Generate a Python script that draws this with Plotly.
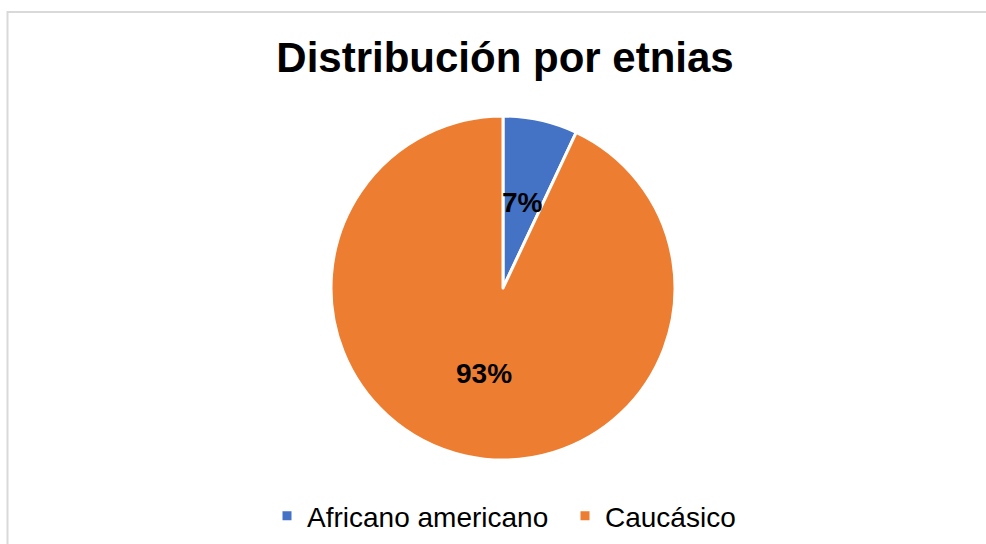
import math
import plotly.graph_objects as go

# ---- data ----
categories = ["Africano americano", "Caucásico"]
values = [7, 93]
colors = ["#4472C4", "#ED7D31"]
title_text = "Distribución por etnias"

W, H = 986, 544
# pie geometry (pixels)
cx_px, cy_px, r_px = 503, 288, 172

dom_x = [(cx_px - r_px) / W, (cx_px + r_px) / W]
dom_y = [1 - (cy_px + r_px) / H, 1 - (cy_px - r_px) / H]

fig = go.Figure()
fig.add_trace(go.Pie(
    labels=categories,
    values=values,
    sort=False,
    direction="clockwise",
    rotation=0,
    marker=dict(colors=colors, line=dict(color="white", width=3)),
    textinfo="none",
    hoverinfo="label+percent",
    domain=dict(x=dom_x, y=dom_y),
    showlegend=True,
))

# percentage labels placed at the middle of each slice
total = sum(values)
cum = 0.0
annotations = []
label_r = 0.51
for v in values:
    frac = v / total
    mid = (cum + frac / 2) * 2 * math.pi
    cum += frac
    px = cx_px + label_r * r_px * math.sin(mid)
    py = cy_px - label_r * r_px * math.cos(mid)
    annotations.append(dict(
        x=px / W, y=1 - py / H, xref="paper", yref="paper",
        text=f"<b>{round(frac * 100)}%</b>", showarrow=False,
        font=dict(family="Liberation Sans, Arial, sans-serif", size=28, color="black"),
        xanchor="center", yanchor="middle",
    ))

fig.update_layout(
    width=W, height=H,
    margin=dict(l=0, r=0, t=0, b=0),
    paper_bgcolor="white",
    plot_bgcolor="white",
    title=dict(
        text=f"<b>{title_text}</b>",
        x=505 / W, xanchor="center",
        y=1 - 57 / H, yanchor="middle",
        font=dict(family="Liberation Sans, Arial, sans-serif", size=42, color="black"),
    ),
    legend=dict(
        orientation="h",
        x=(287 - 20) / W, xanchor="left",
        y=1 - 516 / H, yanchor="middle",
        font=dict(family="Liberation Sans, Arial, sans-serif", size=28, color="#000000"),
        itemwidth=30,
        entrywidth=253,
        entrywidthmode="pixels",
        traceorder="normal",
    ),
    annotations=annotations,
    shapes=[dict(
        type="rect", xref="paper", yref="paper",
        x0=7.5 / W, x1=1.05, y0=-0.05, y1=1 - 12 / H,
        line=dict(color="#D9D9D9", width=2),
        fillcolor="rgba(0,0,0,0)", layer="below",
    )],
)

fig.write_html("out.html")
